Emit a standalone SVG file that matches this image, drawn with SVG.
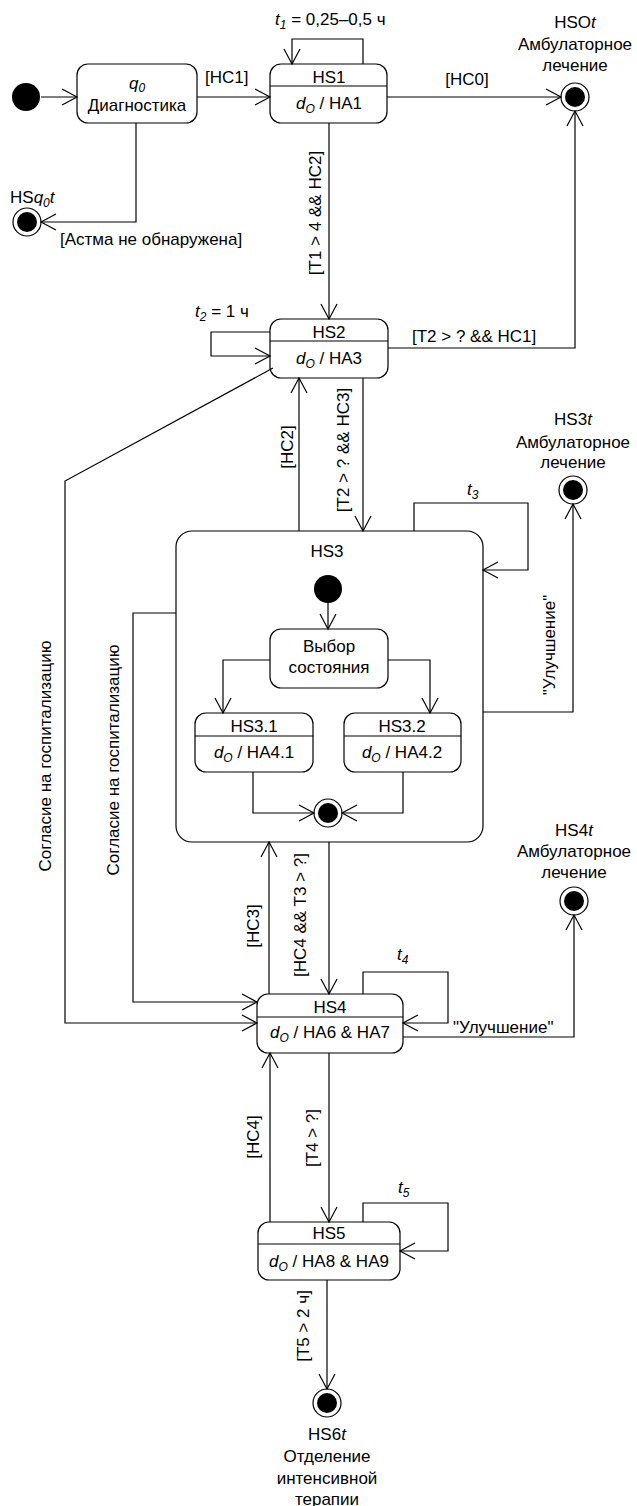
<svg xmlns="http://www.w3.org/2000/svg" width="637" height="1506" viewBox="0 0 637 1506">
<style>
text{font-family:"Liberation Sans",Arial,sans-serif;font-size:17px;fill:#000}
.m{text-anchor:middle}
.i{font-style:italic}
.sub{font-size:12px;font-style:italic}
.st{fill:#fff;stroke:#000;stroke-width:1.2}
.ln{fill:none;stroke:#000;stroke-width:1.2}
.c path{fill:none;stroke:#000;stroke-width:1.2;marker-end:url(#arr)}
.dot{fill:#000}
.fo{fill:#fff;stroke:#000;stroke-width:1.2}
</style>
<defs>
<marker id="arr" markerWidth="18" markerHeight="20" refX="16" refY="9" orient="auto" markerUnits="userSpaceOnUse" overflow="visible">
<path d="M1,1 L16,9 L1,17" fill="none" stroke="#000" stroke-width="1.2"/>
</marker>
</defs>
<rect width="637" height="1506" fill="#fff"/>

<g id="init">
<circle cx="26" cy="97" r="14" class="dot"/>
</g>

<g id="q0">
<rect x="77" y="64" width="120" height="59" rx="11" class="st"/>
<text x="137" y="89" class="m"><tspan class="i">q</tspan><tspan class="sub" dy="3">0</tspan></text>
<text x="137" y="111" class="m">Диагностика</text>
</g>

<g id="HS1">
<rect x="270" y="64" width="117" height="59" rx="11" class="st"/>
<line x1="270" y1="86" x2="387" y2="86" class="ln"/>
<text x="329" y="83" class="m">HS1</text>
<text x="329" y="109" class="m"><tspan class="i">d</tspan><tspan class="sub" dy="4">O</tspan><tspan dy="-4"> / HA1</tspan></text>
</g>

<g id="HSOt">
<text x="575" y="28" class="m">HSO<tspan class="i">t</tspan></text>
<text x="575" y="50" class="m">Амбулаторное</text>
<text x="575" y="71" class="m">лечение</text>
<circle cx="575" cy="97" r="14" class="fo"/>
<circle cx="575" cy="97" r="10" class="dot"/>
</g>

<g id="HSq0t">
<text x="10" y="203">HS<tspan class="i">q</tspan><tspan class="sub" dy="4">0</tspan><tspan class="i" dy="-4">t</tspan></text>
<circle cx="27" cy="222" r="14" class="fo"/>
<circle cx="27" cy="222" r="10" class="dot"/>
</g>

<g id="HS2">
<rect x="270" y="319" width="118" height="59" rx="11" class="st"/>
<line x1="270" y1="341" x2="388" y2="341" class="ln"/>
<text x="329" y="338" class="m">HS2</text>
<text x="329" y="364" class="m"><tspan class="i">d</tspan><tspan class="sub" dy="4">O</tspan><tspan dy="-4"> / HA3</tspan></text>
</g>

<g id="HS3">
<rect x="176" y="531" width="307" height="311" rx="16" class="st"/>
<text x="327" y="557" class="m">HS3</text>
</g>

<g id="HS3init">
<circle cx="328" cy="589" r="14" class="dot"/>
</g>

<g id="choice">
<rect x="270" y="629" width="118" height="59" rx="11" class="st"/>
<text x="329" y="652" class="m">Выбор</text>
<text x="329" y="673" class="m">состояния</text>
</g>

<g id="HS3.1">
<rect x="195" y="713" width="118" height="59" rx="11" class="st"/>
<line x1="195" y1="736" x2="313" y2="736" class="ln"/>
<text x="254" y="732" class="m">HS3.1</text>
<text x="254" y="758" class="m"><tspan class="i">d</tspan><tspan class="sub" dy="4">O</tspan><tspan dy="-4"> / HA4.1</tspan></text>
</g>

<g id="HS3.2">
<rect x="344" y="713" width="117" height="59" rx="11" class="st"/>
<line x1="344" y1="736" x2="461" y2="736" class="ln"/>
<text x="402" y="732" class="m">HS3.2</text>
<text x="402" y="758" class="m"><tspan class="i">d</tspan><tspan class="sub" dy="4">O</tspan><tspan dy="-4"> / HA4.2</tspan></text>
</g>

<g id="HS3final">
<circle cx="328" cy="813" r="14" class="fo"/>
<circle cx="328" cy="813" r="10" class="dot"/>
</g>

<g id="HS3t">
<text x="573" y="425" class="m">HS3<tspan class="i">t</tspan></text>
<text x="573" y="448" class="m">Амбулаторное</text>
<text x="573" y="468" class="m">лечение</text>
<circle cx="573" cy="490" r="14" class="fo"/>
<circle cx="573" cy="490" r="10" class="dot"/>
</g>

<g id="HS4">
<rect x="257" y="994" width="146" height="59" rx="11" class="st"/>
<line x1="257" y1="1017" x2="403" y2="1017" class="ln"/>
<text x="330" y="1013" class="m">HS4</text>
<text x="330" y="1038" class="m"><tspan class="i">d</tspan><tspan class="sub" dy="4">O</tspan><tspan dy="-4"> / HA6 &amp;  HA7</tspan></text>
</g>

<g id="HS4t">
<text x="574" y="836" class="m">HS4<tspan class="i">t</tspan></text>
<text x="574" y="857" class="m">Амбулаторное</text>
<text x="574" y="878" class="m">лечение</text>
<circle cx="574" cy="901" r="14" class="fo"/>
<circle cx="574" cy="901" r="10" class="dot"/>
</g>

<g id="HS5">
<rect x="258" y="1222" width="142" height="58" rx="11" class="st"/>
<line x1="258" y1="1244" x2="400" y2="1244" class="ln"/>
<text x="329" y="1239" class="m">HS5</text>
<text x="329" y="1267" class="m"><tspan class="i">d</tspan><tspan class="sub" dy="4">O</tspan><tspan dy="-4"> / HA8 &amp; HA9</tspan></text>
</g>

<g id="HS6t">
<circle cx="327" cy="1403" r="14" class="fo"/>
<circle cx="327" cy="1403" r="10" class="dot"/>
<text x="327" y="1440" class="m">HS6<tspan class="i">t</tspan></text>
<text x="327" y="1462" class="m">Отделение</text>
<text x="327" y="1484" class="m">интенсивной</text>
<text x="327" y="1505" class="m">терапии</text>
</g>

<g id="connectors" class="c">
<path d="M41,97 L77,97"/>
<path d="M197,97 L270,97"/>
<path d="M363,64 L363,39 L292,39 L292,64"/>
<path d="M387,97 L561,97"/>
<path d="M136,123 L136,222 L41,222"/>
<path d="M329,123 L329,319"/>
<path d="M270,332 L211,332 L211,356 L270,356"/>
<path d="M388,348 L575,348 L575,111"/>
<path d="M363,378 L363,531"/>
<path d="M299,531 L299,378"/>
<path d="M273,368 L65,481 L65,1023 L257,1023"/>
<path d="M176,613 L133,613 L133,1002 L257,1002"/>
<path d="M414,531 L414,503 L528,503 L528,570 L483,570"/>
<path d="M483,712 L573,712 L573,504"/>
<path d="M328,603 L328,629"/>
<path d="M270,660 L223,660 L223,713"/>
<path d="M388,660 L430,660 L430,713"/>
<path d="M253,772 L253,813 L314,813"/>
<path d="M403,772 L403,813 L342,813"/>
<path d="M329,842 L329,994"/>
<path d="M269,994 L269,842"/>
<path d="M363,994 L363,972 L448,972 L448,1023 L403,1023"/>
<path d="M403,1037 L574,1037 L574,915"/>
<path d="M329,1053 L329,1222"/>
<path d="M270,1222 L270,1053"/>
<path d="M363,1222 L363,1203 L448,1203 L448,1251 L400,1251"/>
<path d="M327,1280 L327,1389"/>
</g>

<g id="labels">
<text x="275" y="25"><tspan class="i">t</tspan><tspan class="sub" dy="4">1</tspan><tspan dy="-4"> = 0,25–0,5 ч</tspan></text>
<text x="205" y="83">[HC1]</text>
<text x="467" y="85" class="m">[HC0]</text>
<text x="60" y="245">[Астма не обнаружена]</text>
<text class="m" transform="translate(315,213) rotate(-90)" dy="0.35em">[T1 &gt; 4 &amp;&amp; HC2]</text>
<text x="195" y="317"><tspan class="i">t</tspan><tspan class="sub" dy="4">2</tspan><tspan dy="-4"> = 1 ч</tspan></text>
<text x="412" y="342">[T2 &gt; ? &amp;&amp; HC1]</text>
<text class="m" transform="translate(343,450) rotate(-90)" dy="0.35em">[T2 &gt; ? &amp;&amp; HC3]</text>
<text class="m" transform="translate(287,447) rotate(-90)" dy="0.35em">[HC2]</text>
<text x="467" y="495"><tspan class="i">t</tspan><tspan class="sub" dy="4">3</tspan></text>
<text class="m" transform="translate(549,645) rotate(-90)" dy="0.35em">"Улучшение"</text>
<text class="m" transform="translate(45,756) rotate(-90)" dy="0.35em">Согласие на госпитализацию</text>
<text class="m" transform="translate(113,760) rotate(-90)" dy="0.35em">Согласие на госпитализацию</text>
<text class="m" transform="translate(300,915) rotate(-90)" dy="0.35em">[HC4 &amp;&amp; T3 &gt; ?]</text>
<text class="m" transform="translate(253,926) rotate(-90)" dy="0.35em">[HC3]</text>
<text x="397" y="960"><tspan class="i">t</tspan><tspan class="sub" dy="4">4</tspan></text>
<text x="453" y="1033">"Улучшение"</text>
<text class="m" transform="translate(312,1138) rotate(-90)" dy="0.35em">[T4 &gt; ?]</text>
<text class="m" transform="translate(253,1137) rotate(-90)" dy="0.35em">[HC4]</text>
<text x="398" y="1193"><tspan class="i">t</tspan><tspan class="sub" dy="4">5</tspan></text>
<text class="m" transform="translate(303,1326) rotate(-90)" dy="0.35em">[T5 &gt; 2 ч]</text>
</g>
</svg>
